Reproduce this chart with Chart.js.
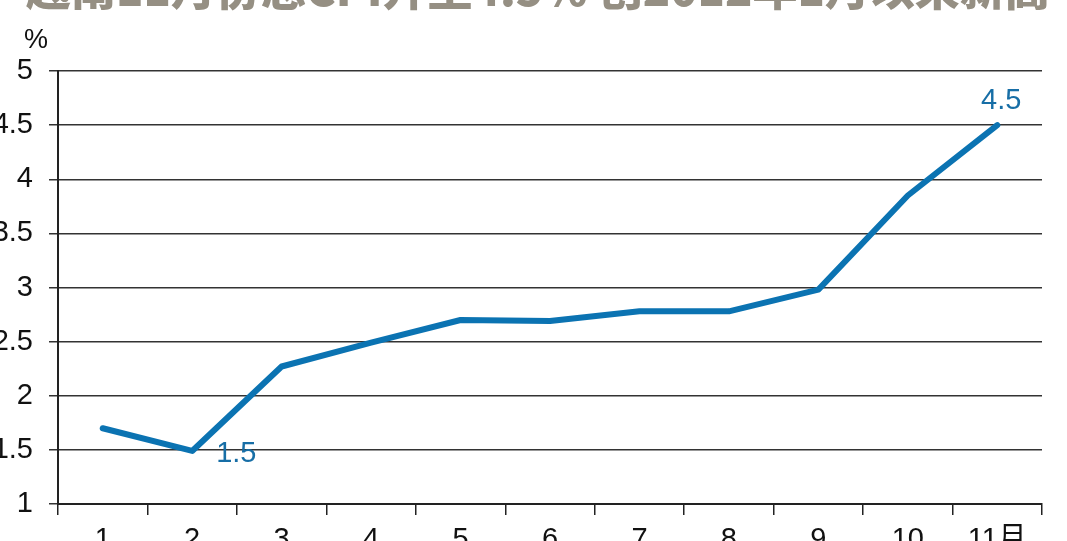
<!DOCTYPE html>
<html>
<head>
<meta charset="utf-8">
<script src="https://cdn.jsdelivr.net/npm/chart.js@4.4.1/dist/chart.umd.min.js"></script>
<style>
  html, body { margin: 0; padding: 0; background: #fff; overflow: hidden; }
  #wrap { position: relative; width: 1067px; height: 541px; overflow: hidden; }
  #title { position: absolute; left: 26px; top: -46px; white-space: nowrap;
           font-family: "Noto Sans CJK SC", sans-serif; font-weight: 900; font-size: 45px;
           color: #958f83; letter-spacing: 0px; }
  #unit { position: absolute; left: 24px; top: 24px;
          font-family: "Liberation Sans Narrow", "Liberation Sans", sans-serif; font-stretch: condensed;
          font-size: 27px; color: #111; }
  canvas { position: absolute; left: 0; top: 0; }
</style>
</head>
<body>
<div id="wrap">
  <canvas id="c" width="1067" height="541"></canvas>
  <div id="title">越南11月份总CPI升至4.5% 创2012年1月以来新高</div>
  <div id="unit">%</div>
</div>
<script>
const categories = ["1", "2", "3", "4", "5", "6", "7", "8", "9", "10", "11月"];
const cpiValues = [1.7, 1.49, 2.27, 2.49, 2.7, 2.69, 2.78, 2.78, 2.98, 3.85, 4.5];
const yTicks = [1, 1.5, 2, 2.5, 3, 3.5, 4, 4.5, 5];
const annotated = [{ index: 1, text: "1.5" }, { index: 10, text: "4.5" }];

const FONT = "'Liberation Sans Narrow', 'Liberation Sans', 'Noto Sans CJK SC', sans-serif";
const BLUE = "#0b73b2";
const LABEL_BLUE = "#176ea6";

const labelPlugin = {
  id: 'pointLabels',
  afterDatasetsDraw(chart) {
    const meta = chart.getDatasetMeta(0);
    const ctx = chart.ctx;
    ctx.save();
    ctx.font = "condensed 29px " + FONT;
    ctx.fillStyle = LABEL_BLUE;
    annotated.forEach(a => {
      const p = meta.data[a.index];
      if (a.index === 1) {
        ctx.textAlign = 'left'; ctx.textBaseline = 'middle';
        ctx.fillText(a.text, p.x + 24, p.y + 3);
      } else {
        ctx.textAlign = 'center'; ctx.textBaseline = 'middle';
        ctx.fillText(a.text, p.x + 4, p.y - 24);
      }
    });
    ctx.restore();
  }
};

new Chart(document.getElementById('c'), {
  type: 'line',
  data: {
    labels: categories,
    datasets: [{
      data: cpiValues,
      borderColor: BLUE,
      borderWidth: 6,
      pointRadius: 0,
      tension: 0,
      borderCapStyle: 'round',
      borderJoinStyle: 'round',
      fill: false
    }]
  },
  options: {
    responsive: false,
    animation: false,
    devicePixelRatio: 1,
    layout: { padding: { top: 71, right: 25, left: 0, bottom: 0 } },
    plugins: { legend: { display: false }, tooltip: { enabled: false }, title: { display: false } },
    scales: {
      x: {
        type: 'category',
        offset: true,
        grid: { offset: true, drawOnChartArea: false, drawTicks: true, tickLength: 11, color: '#222', lineWidth: 1.5 },
        border: { display: true, color: '#222', width: 2 },
        ticks: { color: '#111', font: { family: FONT, size: 29, style: 'condensed' }, padding: 8, maxRotation: 0, autoSkip: false },
        afterFit(scale) { scale.height = 37; }
      },
      y: {
        min: 1, max: 5,
        afterBuildTicks(scale) { scale.ticks = yTicks.map(v => ({ value: v })); },
        grid: { color: '#333', lineWidth: 1.5, tickLength: 9, drawTicks: true },
        border: { display: true, color: '#222', width: 2 },
        ticks: { color: '#111', font: { family: FONT, size: 29, style: 'condensed' }, padding: 16,
                 callback: v => String(v) },
        afterFit(scale) { scale.width = 58; }
      }
    }
  },
  plugins: [labelPlugin]
});
</script>
</body>
</html>
